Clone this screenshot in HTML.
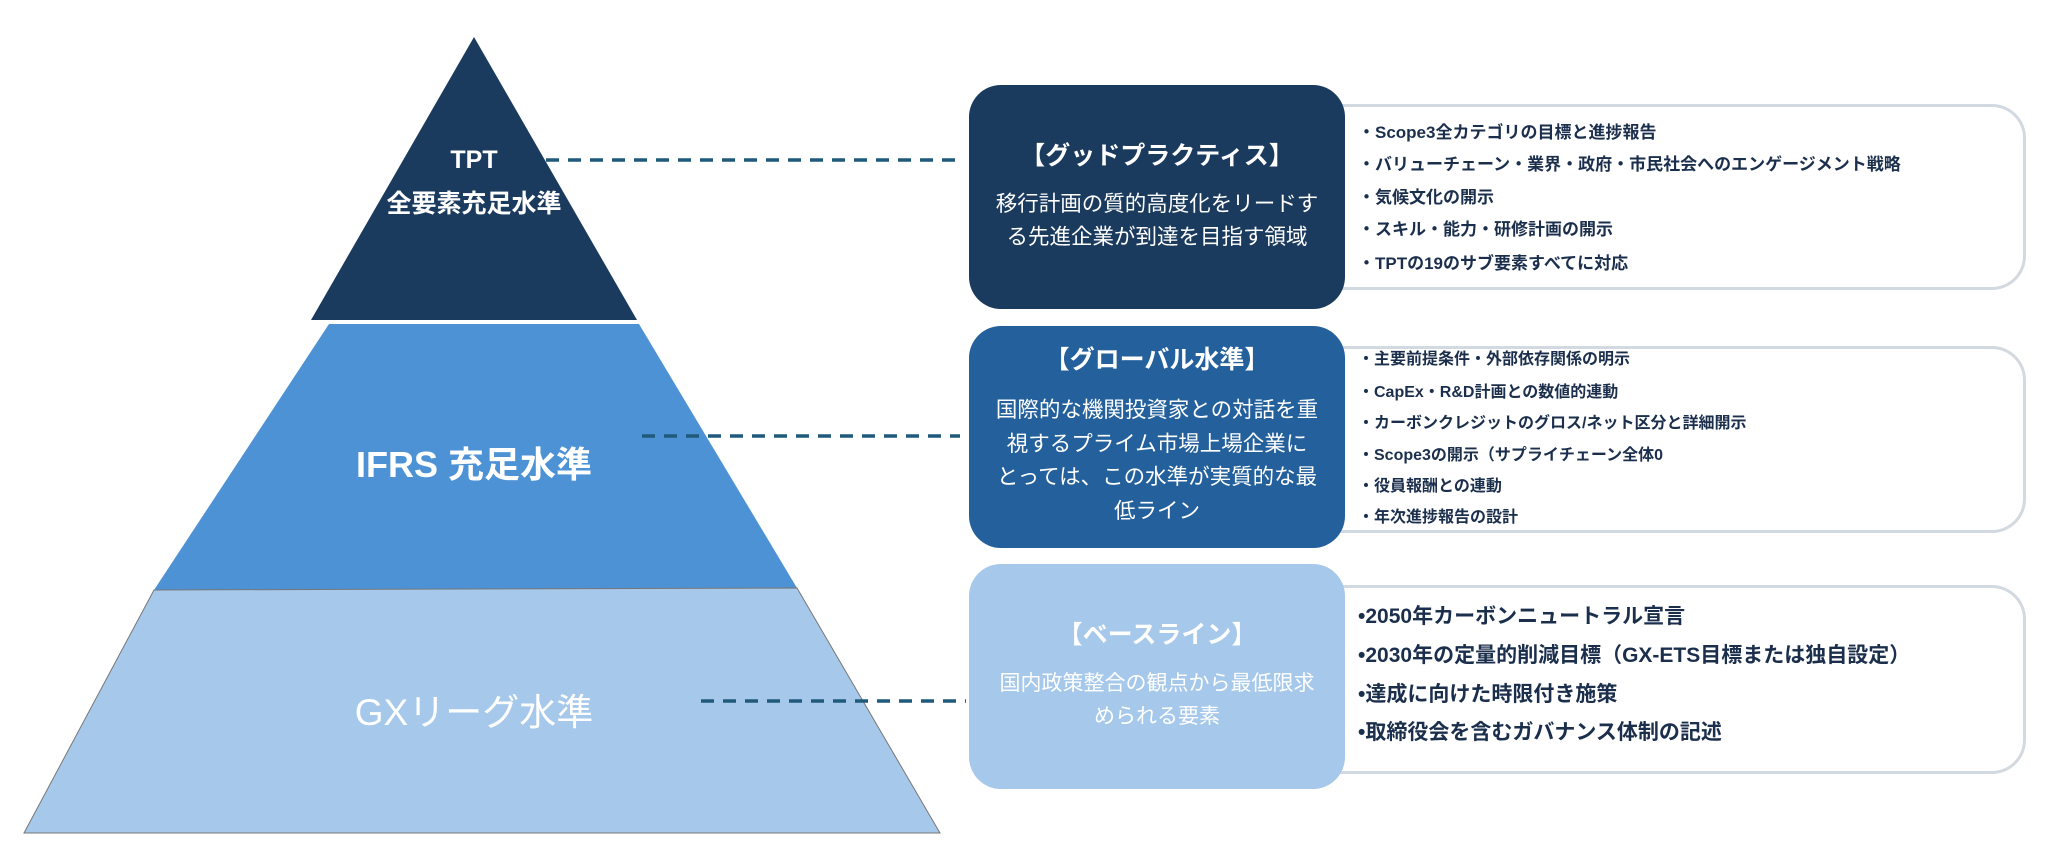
<!DOCTYPE html>
<html><head><meta charset="utf-8"><style>
body{margin:0;width:2048px;height:860px;background:#fff;position:relative;overflow:hidden;font-family:"Liberation Sans","Noto Sans CJK JP",sans-serif}
.a{position:absolute}
.c{text-align:center;white-space:nowrap}
.box{position:absolute;border-radius:32px}
.panel{position:absolute;border:3px solid #d3d9e0;border-left:none;border-radius:0 34px 34px 0;background:#fff}
.li{position:absolute;left:1358px;white-space:nowrap;color:#1b2f4d;font-weight:bold}
</style></head><body>
<svg class="a" style="left:0;top:0" width="2048" height="860">
<polygon points="474,37 637,320 311,320" fill="#1a3a5e"/>
<polygon points="329,324 639,324 797,588 154,590" fill="#4e92d6"/>
<polygon points="154,590 797,588 940,833 24,833" fill="#a6c8ea" stroke="#777" stroke-width="1"/>
<g stroke="#1f5a7a" stroke-width="3.5" stroke-dasharray="13,9">
<line x1="546" y1="160" x2="960" y2="160"/>
<line x1="642" y1="436" x2="960" y2="436"/>
<line x1="701" y1="701" x2="966" y2="701"/>
</g>
</svg>
<div class="a c" style="left:324px;width:300px;top:138px;color:#fff;font-weight:bold;font-size:25px;line-height:44px">TPT<br>全要素充足水準</div>
<div class="a c" style="left:224px;width:500px;top:436px;color:#fff;font-weight:bold;font-size:36px">IFRS 充足水準</div>
<div class="a c" style="left:224px;width:500px;top:682px;color:#fff;font-size:37px">GXリーグ水準</div>

<div class="panel" style="left:1335px;top:104px;width:688px;height:180px"></div>
<div class="panel" style="left:1335px;top:346px;width:688px;height:181px"></div>
<div class="panel" style="left:1335px;top:585px;width:688px;height:183px"></div>

<div class="box" style="left:969px;top:85px;width:376px;height:224px;background:#1a3a5e"></div>
<div class="a c" style="left:969px;width:376px;top:136px;color:#fff;font-weight:bold;font-size:25px">【グッドプラクティス】</div>
<div class="a c" style="left:959px;width:396px;top:188px;color:#fff;font-size:21.5px;line-height:33px">移行計画の質的高度化をリードす<br>る先進企業が到達を目指す領域</div>

<div class="box" style="left:969px;top:326px;width:376px;height:222px;background:#23609c"></div>
<div class="a c" style="left:969px;width:376px;top:340px;color:#fff;font-weight:bold;font-size:25px">【グローバル水準】</div>
<div class="a c" style="left:959px;width:396px;top:394px;color:#fff;font-size:21.5px;line-height:33.5px">国際的な機関投資家との対話を重<br>視するプライム市場上場企業に<br>とっては、この水準が実質的な最<br>低ライン</div>

<div class="box" style="left:969px;top:564px;width:376px;height:225px;background:#a6c8ea"></div>
<div class="a c" style="left:969px;width:376px;top:615px;color:#fff;font-weight:bold;font-size:25px">【ベースライン】</div>
<div class="a c" style="left:959px;width:396px;top:667px;color:#fff;font-size:21px;line-height:33px">国内政策整合の観点から最低限求<br>められる要素</div>

<div class="li" style="top:118px;font-size:17px">・Scope3全カテゴリの目標と進捗報告</div>
<div class="li" style="top:150px;font-size:17px">・バリューチェーン・業界・政府・市民社会へのエンゲージメント戦略</div>
<div class="li" style="top:183px;font-size:17px">・気候文化の開示</div>
<div class="li" style="top:215px;font-size:17px">・スキル・能力・研修計画の開示</div>
<div class="li" style="top:249px;font-size:17px">・TPTの19のサブ要素すべてに対応</div>

<div class="li" style="top:345px;font-size:16px">・主要前提条件・外部依存関係の明示</div>
<div class="li" style="top:378px;font-size:16px">・CapEx・R&amp;D計画との数値的連動</div>
<div class="li" style="top:409px;font-size:16px">・カーボンクレジットのグロス/ネット区分と詳細開示</div>
<div class="li" style="top:441px;font-size:16px">・Scope3の開示（サプライチェーン全体0</div>
<div class="li" style="top:472px;font-size:16px">・役員報酬との連動</div>
<div class="li" style="top:503px;font-size:16px">・年次進捗報告の設計</div>

<div class="li" style="top:600px;font-size:21px">•2050年カーボンニュートラル宣言</div>
<div class="li" style="top:639px;font-size:21px">•2030年の定量的削減目標（GX-ETS目標または独自設定）</div>
<div class="li" style="top:678px;font-size:21px">•達成に向けた時限付き施策</div>
<div class="li" style="top:716px;font-size:21px">•取締役会を含むガバナンス体制の記述</div>
</body></html>
